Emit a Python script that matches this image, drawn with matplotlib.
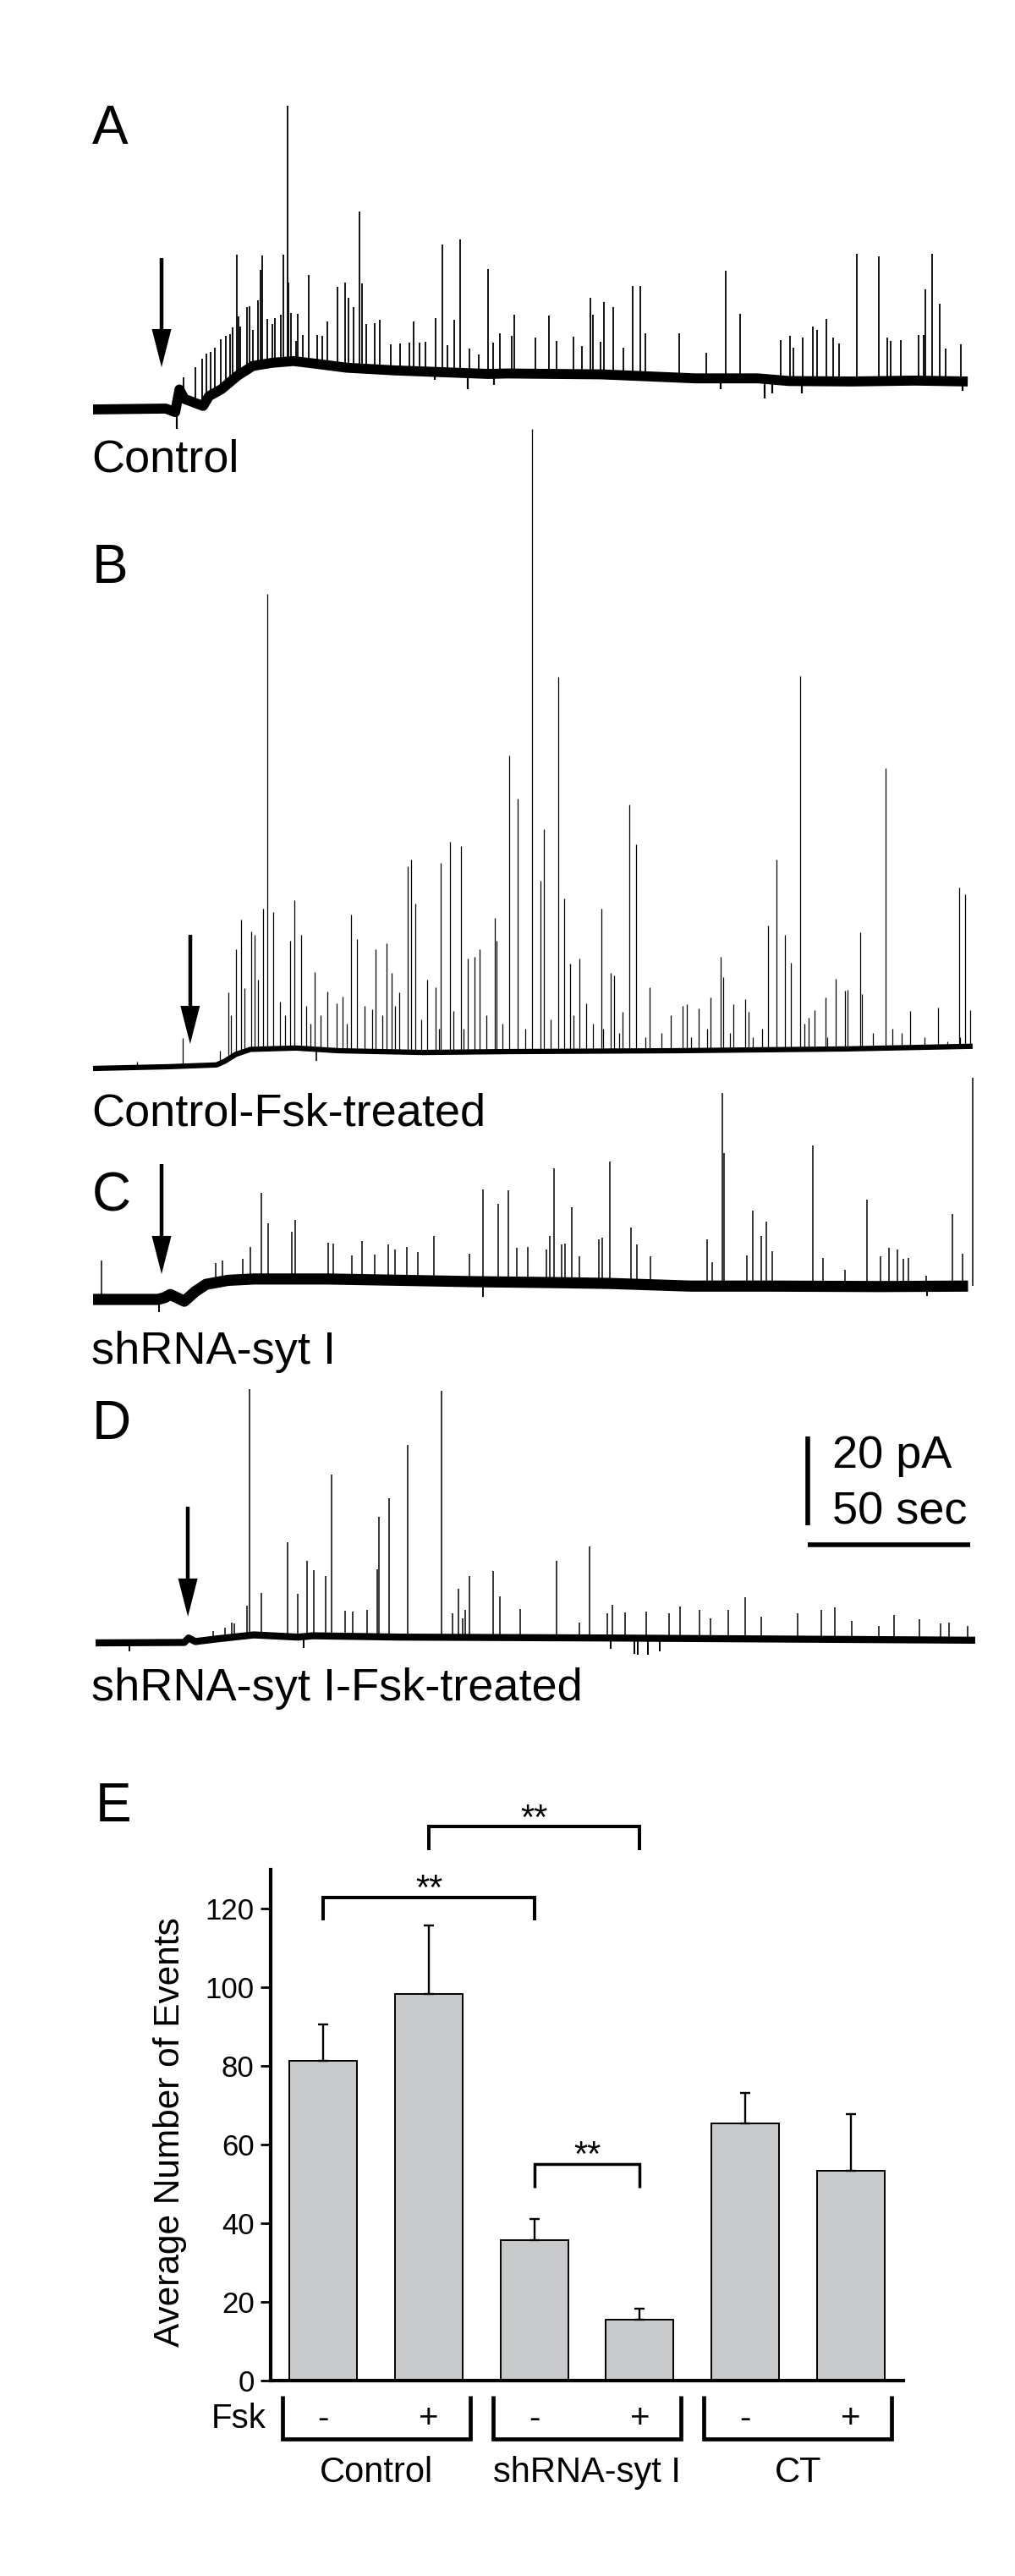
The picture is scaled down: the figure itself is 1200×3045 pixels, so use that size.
import numpy as np
import matplotlib
matplotlib.use("Agg")
import matplotlib.pyplot as plt

# ====================== DATA ======================
# Traces: time (s) and current (pA).
# Panel A - Control
a_base_t = [0, 22.4, 25.3, 26.6, 28.1, 32.0, 33.9, 35.7, 39.6, 44.5, 49.2, 55.1, 61.7, 68.5,
            78.1, 92.7, 107.2, 121.6, 127.6, 156.5, 185.4, 204.7, 214.3, 233.6, 252.9, 269.3]
a_base_i = [0, 0.2, -0.6, 4.5, 2.4, 1.3, 0.8, 3.0, 4.6, 7.6, 9.8, 10.5, 10.9, 10.3,
            9.4, 8.8, 8.4, 8.0, 8.1, 7.9, 7.0, 7.0, 6.4, 6.3, 6.5, 6.3]
a_spikes = [(44.3, 34.8), (52.2, 34.7), (51.5, 31.4), (58.7, 34.8), (59.9, 68.3), (82.1, 44.6),
            (82.8, 28.3), (107.6, 37.2), (112.9, 38.2), (121.6, 31.7), (129.8, 21.3), (66.4, 30.2),
            (75.3, 27.6), (77.7, 28.6), (78.7, 25.1), (80.3, 23.0), (50.8, 24.6), (47.4, 23.0),
            (48.1, 23.2), (44.7, 21.0), (37.5, 14.0), (39.2, 15.8), (31.4, 9.6), (27.9, 7.2),
            (72.2, 19.8), (86.7, 19.5), (88.2, 20.2), (98.7, 19.8), (105.4, 20.5), (111.2, 20.2),
            (63.1, 21.6), (61.0, 21.8), (53.6, 20.4), (56.0, 20.5), (57.7, 21.4), (64.7, 16.8),
            (123.1, 15.1), (125.3, 17.2), (91.7, 14.7), (94.6, 14.9), (102.3, 15.2),
            (45.4, 18.6), (49.3, 17.9), (55.1, 19.3), (60.1, 28.5), (62.6, 15.4), (69.1, 16.8),
            (70.5, 16.5), (84.0, 19.3), (97.5, 15.1), (100.4, 15.1), (109.1, 14.4), (115.8, 13.7),
            (118.8, 12.3), (33.5, 11.5), (35.0, 12.5), (36.2, 13.0), (41.0, 16.5), (42.3, 17.0),
            (43.0, 18.5),
            (128.9, 16.5), (136.1, 16.1), (140.3, 21.1), (142.6, 15.4), (147.9, 16.4), (150.6, 14.2),
            (153.1, 25.2), (153.9, 21.4), (156.3, 15.2), (157.2, 24.1), (160.2, 23.1), (163.3, 14.0),
            (166.2, 27.8), (168.5, 27.8), (170.1, 17.2), (180.4, 17.2), (188.8, 12.8), (194.9, 31.3),
            (199.1, 21.6), (211.8, 15.6), (214.7, 16.5), (215.6, 14.0), (218.6, 16.2), (221.6, 18.7),
            (222.9, 18.0), (225.7, 20.4), (227.9, 16.1), (229.7, 14.9), (235.2, 35.0), (241.8, 34.5),
            (244.6, 16.1), (245.7, 15.4), (248.6, 15.6), (254.2, 16.7), (255.6, 16.8), (256.2, 27.0),
            (258.4, 35.0), (260.7, 23.8), (262.4, 13.8), (267.1, 14.6)]
a_negs = [(25.7, -4.4), (206.7, 2.4), (209.1, 3.7), (193.2, 4.5), (218.2, 3.7), (267.7, 4.2),
          (115.4, 4.5), (123.4, 5.6), (105.2, 6.7)]

# Panel B - Control-Fsk-treated
b_base_t = [0, 23.4, 38.0, 40.5, 44.0, 48.5, 62.5, 75.5, 101.6, 127.6, 179.7, 231.8, 270.8]
b_base_i = [0, 0.4, 0.8, 1.6, 3.2, 4.3, 4.6, 4.0, 3.6, 3.8, 4.0, 4.4, 5.0]
b_spikes = [(135.2, 144.0), (53.6, 106.9), (143.2, 88.2), (128.1, 70.5), (130.7, 60.8), (165.1, 59.4),
            (167.2, 50.5), (138.8, 53.9), (109.9, 51.0), (113.3, 50.1), (107.0, 46.3), (97.9, 47.0),
            (96.9, 45.5), (99.2, 37.1), (137.8, 42.3), (145.1, 38.3), (156.5, 36.0), (62.0, 37.9),
            (55.5, 35.2), (52.3, 36.0), (45.6, 33.5), (44.0, 26.9), (48.7, 30.9), (49.7, 30.1),
            (79.4, 34.7), (81.3, 29.1), (64.1, 30.1), (60.7, 28.8), (87.0, 26.9), (90.4, 28.2),
            (123.7, 33.9), (124.2, 28.8), (119.0, 26.9), (117.4, 25.1), (115.4, 24.8), (149.7, 24.8),
            (146.9, 23.6), (68.2, 21.7), (41.7, 17.1), (159.4, 21.5), (160.4, 21.0), (151.8, 14.7),
            (91.9, 21.5), (94.3, 17.1), (102.9, 20.0), (105.5, 18.3), (72.1, 17.3), (75.0, 14.7),
            (76.8, 16.2), (83.6, 14.1), (85.9, 13.3), (13.5, 1.6), (27.6, 6.9), (39.1, 4.0),
            (217.7, 88.4), (244.0, 67.6), (210.4, 47.0), (266.7, 40.8), (268.5, 39.2), (207.8, 32.2),
            (213.0, 30.1), (214.8, 23.8), (236.2, 30.7), (193.2, 25.1), (194.0, 20.6), (228.6, 20.2),
            (231.5, 17.5), (232.3, 17.7), (225.5, 16.0), (236.7, 16.8), (200.8, 15.6), (201.8, 12.8),
            (197.1, 14.5), (190.1, 16.0), (260.2, 13.7), (270.1, 13.1), (251.6, 13.0), (222.1, 13.1),
            (220.3, 11.4), (171.4, 18.3), (177.9, 12.0), (181.5, 14.1), (182.8, 14.5), (186.5, 13.5),
            (163.0, 12.8),
            (42.5, 12), (46.5, 18), (50.8, 20), (57.5, 15), (59.0, 12), (65.5, 14), (67.0, 10),
            (70.0, 12), (78.0, 10), (89.0, 12), (93.0, 14), (101.0, 11), (106.5, 9), (111.0, 13),
            (114.0, 9), (121.0, 12), (126.0, 10), (133.0, 9), (141.0, 11), (148.0, 12), (154.0, 10),
            (157.0, 9), (162.0, 8), (170.0, 7), (175.0, 8), (184.0, 7), (189.0, 9), (196.0, 8),
            (203.0, 7), (206.0, 9), (219.0, 10), (226.0, 7), (240.0, 8), (246.0, 9), (249.0, 8),
            (256.0, 7), (263.0, 6), (267.0, 7)]
b_negs = [(68.8, 1.7)]

# Panel C - shRNA-syt I
c_base_t = [0, 20.0, 22.0, 23.8, 25.8, 28.1, 31.5, 34.8, 41.6, 49.5, 72.0, 95.0, 117.0, 141.0,
            159.0, 184.0, 208.0, 242.0, 269.4]
c_base_i = [0, 0, 0.4, 1.1, 0.4, -0.4, 1.8, 3.4, 4.3, 4.6, 4.6, 4.3, 4.0, 3.8,
            3.6, 3.0, 3.0, 2.9, 3.0]
c_spikes = [(2.7, 8.8), (51.7, 24.0), (54.0, 17.2), (62.2, 18.0), (61.3, 15.3), (48.4, 11.8),
            (72.3, 12.8), (73.9, 12.6), (82.7, 13.1), (90.8, 12.4), (93.0, 11.2), (105.0, 14.2),
            (120.0, 24.7), (124.7, 21.6), (127.8, 24.5), (142.0, 29.5), (140.6, 14.2), (139.5, 11.2),
            (147.3, 20.8), (144.4, 12.4), (155.7, 13.6), (156.8, 14.0), (115.8, 10.2), (133.9, 11.8),
            (96.7, 11.8), (100.1, 10.7), (79.6, 9.9), (86.8, 10.1), (37.8, 8.1), (39.9, 8.7),
            (46.1, 9.1),
            (193.8, 46.5), (270.8, 49.9), (194.4, 32.9), (221.6, 34.7), (159.2, 31.1), (238.4, 22.5),
            (264.6, 19.3), (203.0, 20.0), (207.3, 17.6), (205.8, 14.2), (209.0, 10.9), (165.7, 16.1),
            (167.4, 12.3), (145.4, 12.6), (130.5, 11.6), (189.0, 13.6), (245.0, 11.7), (247.7, 11.3),
            (242.5, 9.8), (249.5, 9.1), (251.1, 9.3), (267.8, 10.3), (171.7, 9.7), (149.7, 9.7),
            (190.6, 8.4), (224.7, 9.3), (201.4, 9.9), (231.6, 6.6), (256.4, 5.4)]
c_negs = [(20.2, -2.9), (120.0, 0.5), (256.8, 0.8)]

# Panel D - shRNA-syt I-Fsk-treated
d_base_t = [0.8, 28.1, 29.4, 31.5, 38.2, 49.5, 63.1, 67.6, 94.7, 158.9, 271.6]
d_base_i = [0, 0.1, 1.1, 0.3, 0.9, 1.8, 1.3, 1.6, 1.3, 1.1, 0.6]
d_spikes = [(48.1, 57.1), (107.3, 56.7), (97.0, 44.6), (73.4, 37.9), (91.2, 32.6), (87.9, 28.4),
            (87.4, 16.6), (60.0, 22.6), (65.9, 18.4), (68.0, 16.4), (71.7, 15.1), (62.9, 11.0),
            (51.8, 11.3), (47.3, 8.4), (115.9, 15.1), (112.4, 12.1), (123.3, 16.2), (125.3, 10.4),
            (142.8, 18.5), (152.9, 21.8), (77.5, 7.3), (80.0, 7.0), (84.5, 7.5),
            (131.4, 7.7), (200.8, 10.3), (228.5, 8.0), (224.1, 7.4), (216.8, 6.7), (195.5, 7.5),
            (186.7, 7.5), (180.6, 8.2), (177.3, 6.6), (170.3, 7.1), (163.8, 6.9), (159.8, 8.5),
            (158.4, 6.6), (246.6, 6.3), (254.5, 5.3), (260.9, 4.4), (263.5, 4.6), (269.2, 3.8),
            (233.6, 4.9), (205.6, 5.9), (190.0, 5.5), (149.8, 4.6), (242.0, 3.8), (113.9, 5.5),
            (114.7, 7.5), (110.8, 6.6), (42.7, 4.6), (43.6, 4.4), (40.5, 3.4), (37.1, 2.7)]
d_negs = [(166.6, -2.4), (167.8, -2.6), (170.9, -2.6), (174.5, -1.9), (159.5, -1.4),
          (64.8, -1.1), (11.1, -1.9)]

trace_labels = ["Control", "Control-Fsk-treated", "shRNA-syt I", "shRNA-syt I-Fsk-treated"]
panel_letters = ["A", "B", "C", "D", "E"]
arrow_times = [21.1, 29.9, 21.1, 29.2]      # s, time of application (arrow)
scale_pa = 20
scale_sec = 50

# Panel E - bar chart
bar_groups = ["Control", "shRNA-syt I", "CT"]
bar_fsk = ["-", "+", "-", "+", "-", "+"]
bar_means = [81.3, 98.3, 35.8, 15.5, 65.5, 53.4]
bar_sem = [9.3, 17.4, 5.3, 2.9, 7.6, 14.5]
sig_pairs = [(0, 2), (1, 3), (2, 3)]
sig_heights = [123.0, 140.9, 55.1]
sig_text = ["**", "**", "**"]
y_ticks = [0, 20, 40, 60, 80, 100, 120]

# ====================== FIGURE ======================
W, H = 1200, 3045
plt.rcParams['font.family'] = ['Liberation Sans', 'DejaVu Sans']
fig = plt.figure(figsize=(W / 100, H / 100), dpi=100)
fig.patch.set_facecolor('white')

PX_S = 3.84     # px per second
PX_PA = 5.25    # px per pA
X0 = 110        # px of t = 0


def add_ax_px(x0, y0, x1, y1):
    return fig.add_axes([x0 / W, 1 - y1 / H, (x1 - x0) / W, (y1 - y0) / H])


def ftext(x, y, s, size, **kw):
    fig.text(x / W, 1 - y / H, s, fontsize=size, **kw)


def trace_ax(ytop, ybot, base):
    ax = add_ax_px(100, ytop, 1200, ybot)
    ax.set_xlim((100 - X0) / PX_S, (1200 - X0) / PX_S)
    ax.set_ylim((base - ybot) / PX_PA, (base - ytop) / PX_PA)
    ax.axis('off')
    return ax


def draw_trace(ax, bt, bi, spikes, negs, lw_base, lw_spk):
    st = np.array([s[0] for s in spikes])
    sp = np.array([s[1] for s in spikes])
    foot = np.interp(st, bt, bi)
    ax.vlines(st, foot, sp, color='black', lw=lw_spk, clip_on=False)
    nt = np.array([s[0] for s in negs])
    nv = np.array([s[1] for s in negs])
    ax.vlines(nt, np.interp(nt, bt, bi), nv, color='black', lw=lw_spk + 0.3, clip_on=False)
    ax.plot(bt, bi, color='black', lw=lw_base, solid_joinstyle='round',
            solid_capstyle='butt', clip_on=False)


def draw_arrow(ax, t, top, tip):
    hl, hw = 8.6, 3.0
    ax.plot([t, t], [top, tip + hl * 0.9], color='black', lw=3.2, solid_capstyle='butt')
    ax.fill([t - hw, t + hw, t], [tip + hl, tip + hl, tip], color='black', lw=0)


LET = 46
LAB = 39

# Panel A
axA = trace_ax(100, 520, 484)
draw_trace(axA, a_base_t, a_base_i, a_spikes, a_negs, 8.5, 1.3)
draw_arrow(axA, arrow_times[0], 34.1, 9.5)
ftext(109, 170, panel_letters[0], LET)
ftext(108, 557, trace_labels[0], LAB)

# Panel B
axB = trace_ax(495, 1290, 1263)
draw_trace(axB, b_base_t, b_base_i, b_spikes, b_negs, 4.5, 0.9)
draw_arrow(axB, arrow_times[1], 30.1, 5.5)
ftext(109, 689, panel_letters[1], LET)
ftext(108, 1331, trace_labels[1], LAB)

# Panel C
axC = trace_ax(1260, 1560, 1536)
draw_trace(axC, c_base_t, c_base_i, c_spikes, c_negs, 9.5, 1.1)
draw_arrow(axC, arrow_times[2], 30.5, 5.7)
ftext(109, 1432, panel_letters[2], LET)
ftext(108, 1612, trace_labels[2], LAB)

# Panel D
axD = trace_ax(1620, 1970, 1942)
draw_trace(axD, d_base_t, d_base_i, d_spikes, d_negs, 6.0, 1.1)
draw_arrow(axD, arrow_times[3], 30.7, 5.9)
ftext(109, 1701, panel_letters[3], LET)
ftext(108, 2010, trace_labels[3], LAB)

# scale bar (in panel D coordinates)
sb_t, sb_y = 220.1, 26.5
axD.plot([sb_t, sb_t], [sb_y, sb_y + scale_pa], color='black', lw=4.0, solid_capstyle='butt')
axD.plot([sb_t, sb_t + scale_sec], [sb_y - 4.4, sb_y - 4.4], color='black', lw=4.0,
         solid_capstyle='butt')
axD.text(sb_t + 7.5, 39.4, f"{scale_pa} pA", fontsize=LAB, va='baseline', ha='left')
axD.text(sb_t + 7.5, 26.7, f"{scale_sec} sec", fontsize=LAB, va='baseline', ha='left')

# ====================== Panel E ======================
ftext(113, 2153, panel_letters[4], LET)
axE = add_ax_px(320, 2210, 1068, 2814)
x = np.arange(len(bar_means))
axE.bar(x, bar_means, width=0.64, color='#c8c9cb', edgecolor='black', lw=1.4, zorder=2)
axE.errorbar(x, bar_means, yerr=[np.zeros(len(bar_sem)), bar_sem], fmt='none', ecolor='black',
             elinewidth=1.7, capsize=4.0, capthick=1.7, zorder=3)
axE.set_xlim(-0.5, 5.5)
axE.set_ylim(0, 130)
for s in ['top', 'right']:
    axE.spines[s].set_visible(False)
for s in ['left', 'bottom']:
    axE.spines[s].set_linewidth(3.0)
axE.set_yticks(y_ticks)
axE.set_xticks([])
axE.tick_params(axis='y', direction='out', length=9.0, width=2.0, labelsize=25, pad=5.0)

# significance brackets
drop = 6.0
for (i1, i2), hgt, txt, lw in zip(sig_pairs, sig_heights, sig_text, [2.9, 2.9, 2.5]):
    axE.plot([i1, i1, i2, i2], [hgt - drop, hgt, hgt, hgt - drop], color='black', lw=lw,
             clip_on=False, solid_joinstyle='miter', solid_capstyle='butt')
    axE.text((i1 + i2) / 2, hgt - 0.5, txt, fontsize=30, ha='center', va='baseline')

# Fsk row and group brackets
for xi, sgn in zip(x, bar_fsk):
    axE.text(xi, -12.0, sgn, fontsize=29, ha='center', va='baseline', clip_on=False)
axE.text(-0.54, -12.0, "Fsk", fontsize=29, ha='right', va='baseline', clip_on=False)
for gi, name in enumerate(bar_groups):
    c = 2 * gi + 0.5
    axE.plot([c - 0.89, c - 0.89, c + 0.89, c + 0.89], [-3.9, -14.8, -14.8, -3.9],
             color='black', lw=3.4, clip_on=False, solid_joinstyle='miter',
             solid_capstyle='butt')
    axE.text(c, -25.9, name, fontsize=30, ha='center', va='baseline', clip_on=False)

ftext(212, 2520, "Average Number of Events", 30.5, rotation=90, rotation_mode='anchor',
      ha='center', va='baseline')

fig.savefig("out.png", dpi=100, facecolor='white')
